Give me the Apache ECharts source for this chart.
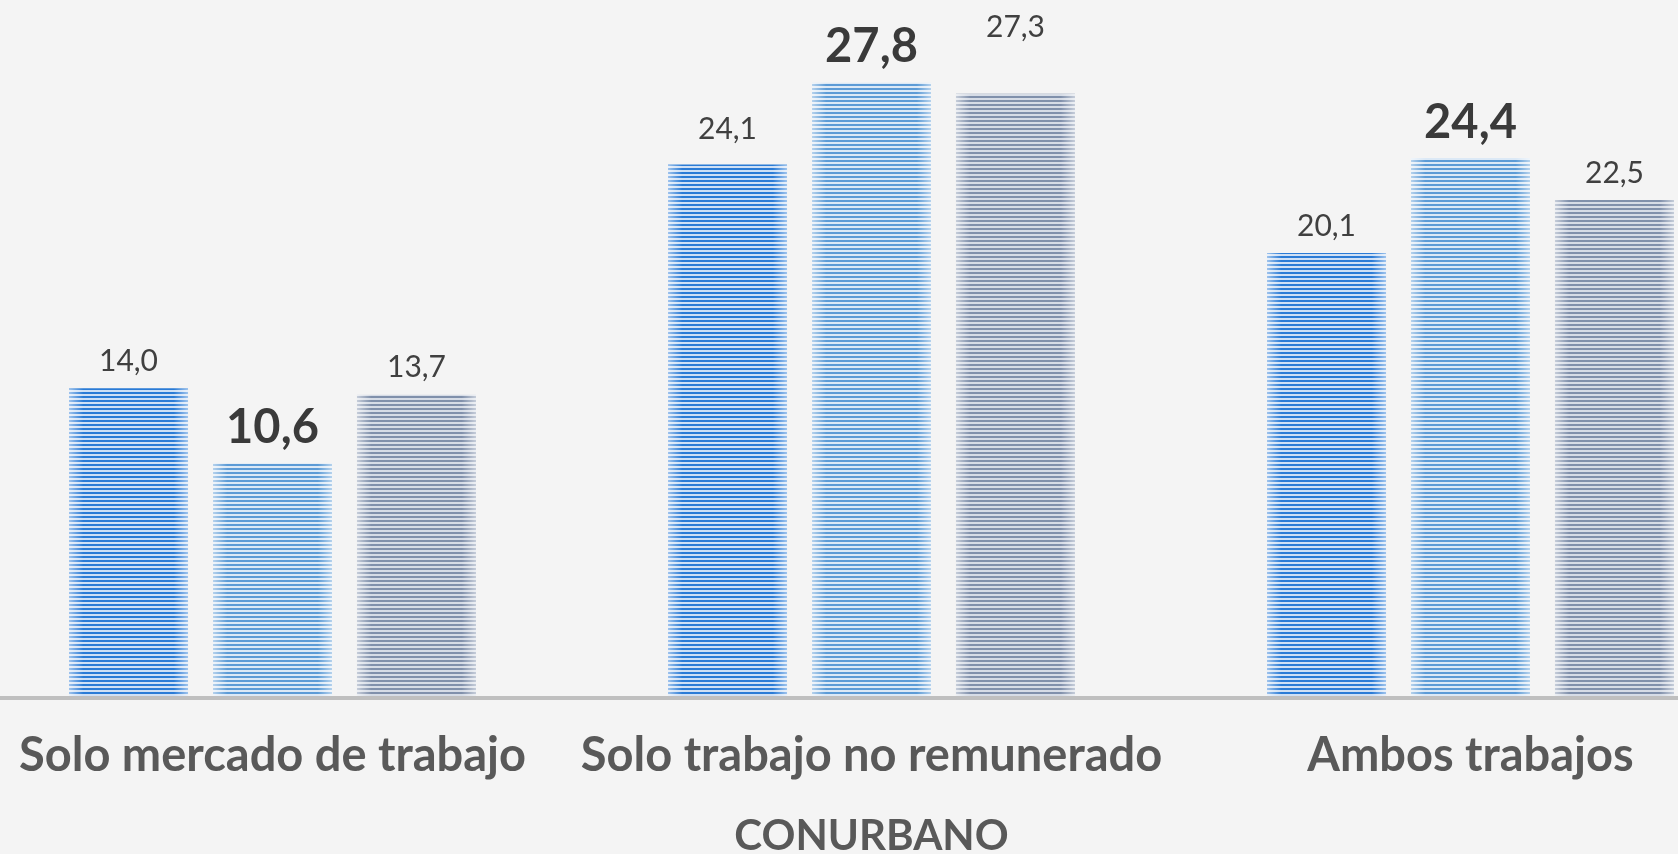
<!DOCTYPE html>
<html>
<head>
<meta charset="utf-8">
<script src="https://cdn.jsdelivr.net/npm/echarts@6/dist/echarts.min.js"></script>
<style>
  html, body { margin: 0; padding: 0; background: #f4f4f4; overflow: hidden; width: 1678px; height: 854px; }
  /* the plot is a little wider than the window so the outer groups reach the edges */
  #chart { position: absolute; left: -27px; top: 0; width: 1797px; height: 854px; }
</style>
</head>
<body>
<div id="chart"></div>
<script>
// Categories and values (percent) for the three bars of each group
const categories = ['Solo mercado de trabajo', 'Solo trabajo no remunerado', 'Ambos trabajos'];
const serieA = [14.0, 24.1, 20.1];
const serieB = [10.6, 27.8, 24.4];
const serieC = [13.7, 27.3, 22.5];
const axisTitle = 'CONURBANO';

// Horizontal-stripe fill: 2px dark line, 2px pale line
function stripes(dark, light) {
  const c = document.createElement('canvas');
  c.width = 4; c.height = 4;
  const g = c.getContext('2d');
  g.fillStyle = light; g.fillRect(0, 0, 4, 4);
  g.fillStyle = dark; g.fillRect(0, 0, 4, 2);
  return { image: c, repeat: 'repeat' };
}

const fmt = v => v.toFixed(1).replace('.', ',');
const FONT = 'Lato, "Open Sans", sans-serif';

const normalLabel = {
  show: true, position: 'top', distance: 12,
  fontFamily: FONT, fontSize: 30, color: '#404040',
  formatter: p => fmt(p.value)
};
const boldLabel = {
  show: true, position: 'top', distance: 12,
  fontFamily: FONT, fontSize: 47, fontWeight: 'bold', color: '#3a3a3a',
  formatter: p => fmt(p.value)
};

// Some value labels sit a little higher above their bars
const liftB = [0, 0, 0];
const liftA = [0, 8, 0];
const liftC = [0, 39, 0];

function items(values, lifts) {
  return values.map((v, i) => lifts[i] ? { value: v, label: { offset: [0, -lifts[i]] } } : v);
}

const BAR_W = 119;
const GAP = '21%';

// Pale sheen at the left and right edges of each bar
const sheen = {
  type: 'linear', x: 0, y: 0, x2: 1, y2: 0,
  colorStops: [
    { offset: 0, color: 'rgba(255,255,255,0.55)' },
    { offset: 0.12, color: 'rgba(255,255,255,0)' },
    { offset: 0.88, color: 'rgba(255,255,255,0)' },
    { offset: 1, color: 'rgba(255,255,255,0.55)' }
  ]
};

function overlay(values) {
  return {
    type: 'bar', xAxisIndex: 1, data: values, barWidth: BAR_W, barGap: GAP,
    silent: true, z: 3, itemStyle: { color: sheen }, label: { show: false }
  };
}

const chart = echarts.init(document.getElementById('chart'), null, { renderer: 'canvas' });
chart.setOption({
  backgroundColor: '#f4f4f4',
  animation: false,
  grid: { left: 0, right: 0, top: 34, bottom: 156, containLabel: false, outerBoundsMode: 'none' },
  xAxis: [{
    type: 'category', data: categories, z: 5,
    axisLine: { show: true, lineStyle: { color: '#bfbfbf', width: 4 } },
    axisTick: { show: false },
    axisLabel: {
      interval: 0, margin: 34, fontFamily: FONT, fontSize: 47,
      fontWeight: 'bold', color: '#595959'
    },
    name: axisTitle, nameLocation: 'middle', nameGap: 117,
    nameTextStyle: { fontFamily: FONT, fontSize: 42, fontWeight: 'bold', color: '#595959' }
  }, {
    type: 'category', data: categories, show: false
  }],
  yAxis: { type: 'value', min: 0, max: 30, show: false, splitLine: { show: false } },
  series: [
    { type: 'bar', name: 'A', data: items(serieA, liftA), barWidth: BAR_W, barGap: GAP,
      itemStyle: { color: stripes('#2a7bd6', '#cfe0f5') }, label: normalLabel },
    { type: 'bar', name: 'B', data: items(serieB, liftB), barWidth: BAR_W, barGap: GAP,
      itemStyle: { color: stripes('#5c9bd6', '#dce9f6') }, label: boldLabel },
    { type: 'bar', name: 'C', data: items(serieC, liftC), barWidth: BAR_W, barGap: GAP,
      itemStyle: { color: stripes('#8090ab', '#d6dce6') }, label: normalLabel },
    overlay(serieA), overlay(serieB), overlay(serieC)
  ]
});
</script>
</body>
</html>
